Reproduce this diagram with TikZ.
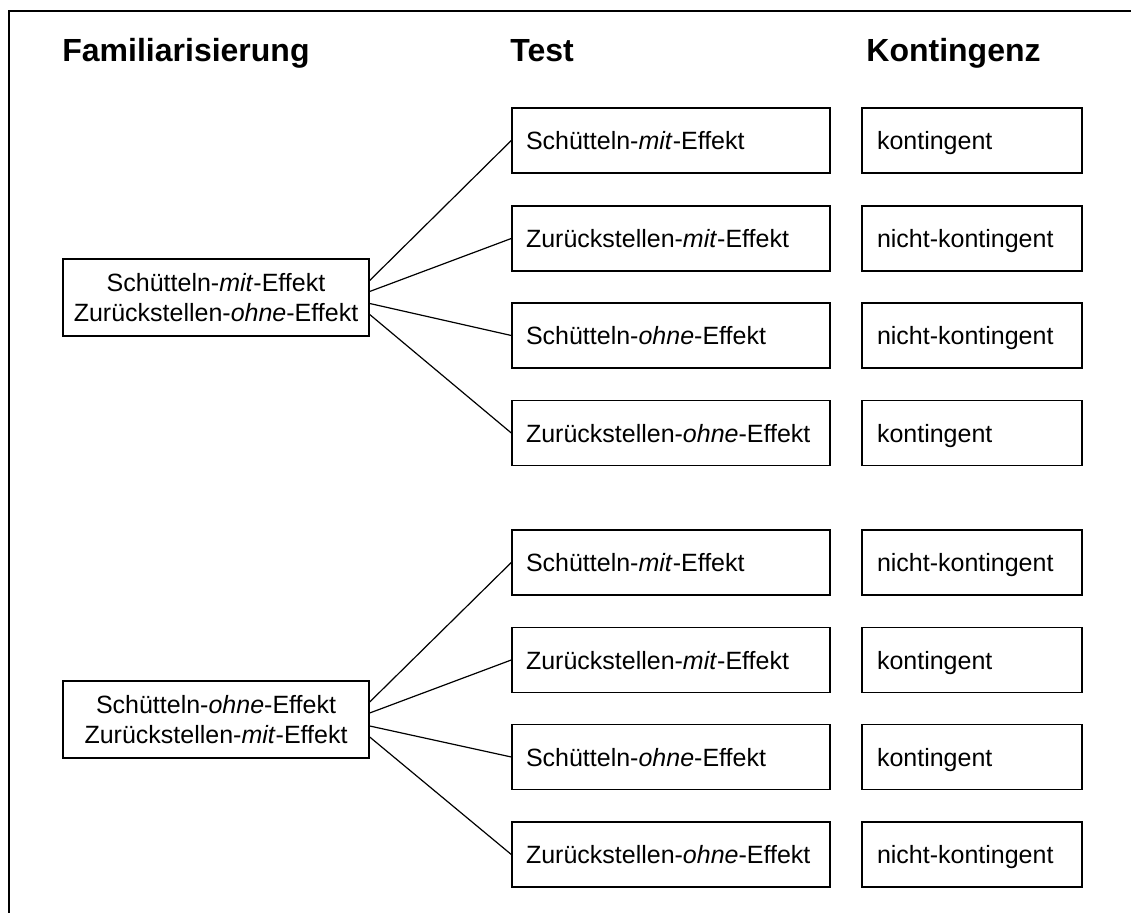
\documentclass[tikz,border=0pt]{standalone}
\usepackage{fontspec}
\setmainfont{Liberation Sans}
\tikzset{
	rahmen/.style={line width=1pt},
	famkasten/.style={draw, line width=0.7pt, minimum width=153pt, minimum height=38.5pt, inner sep=0pt, align=center, font=\fontsize{12.5}{15}\selectfont},
	testkasten/.style={draw, line width=0.7pt, minimum height=32.5pt, text width=145pt, text height=12pt, text depth=2.5pt, inner xsep=7pt, inner ysep=0pt, align=left, font=\fontsize{12.5}{15}\selectfont},
	kontkasten/.style={testkasten, text width=95pt, inner xsep=7.5pt},
	titel/.style={anchor=base west, inner sep=0pt, font=\fontsize{16}{19}\selectfont\bfseries},
	verbindung/.style={line width=0.6pt}
}

\begin{document}
\begin{tikzpicture}[x=0.5pt, y=-0.5pt]
		%%%%% START %%%%%
		\useasboundingbox (0, 0) rectangle (1131, 913);
		
		\draw[rahmen] (9, 913) -- (9, 11) -- (1131, 11);
		
		\node[titel] (tfam) at (62, 62) {Familiarisierung};
		\node[titel] (ttest) at (510, 62) {Test};
		\node[titel] (tkont) at (866, 62) {Kontingenz};
		
		\node[famkasten] (fam1) at (216, 297.5) {Schütteln-\emph{mit}-Effekt\\Zurückstellen-\emph{ohne}-Effekt};
		\node[famkasten] (fam2) at (216, 719.5) {Schütteln-\emph{ohne}-Effekt\\Zurückstellen-\emph{mit}-Effekt};
		
		\node[testkasten] (test1) at (671, 140.5) {Schütteln-\emph{mit}-Effekt};
		\node[testkasten] (test2) at (671, 238.5) {Zurückstellen-\emph{mit}-Effekt};
		\node[testkasten] (test3) at (671, 335.5) {Schütteln-\emph{ohne}-Effekt};
		\node[testkasten] (test4) at (671, 433) {Zurückstellen-\emph{ohne}-Effekt};
		
		\node[kontkasten] (kont1) at (972, 140.5) {kontingent};
		\node[kontkasten] (kont2) at (972, 238.5) {nicht-kontingent};
		\node[kontkasten] (kont3) at (972, 335.5) {nicht-kontingent};
		\node[kontkasten] (kont4) at (972, 433) {kontingent};
		
		\node[testkasten] (test5) at (671, 562.5) {Schütteln-\emph{mit}-Effekt};
		\node[testkasten] (test6) at (671, 660) {Zurückstellen-\emph{mit}-Effekt};
		\node[testkasten] (test7) at (671, 757) {Schütteln-\emph{ohne}-Effekt};
		\node[testkasten] (test8) at (671, 854.5) {Zurückstellen-\emph{ohne}-Effekt};
		
		\node[kontkasten] (kont5) at (972, 562.5) {nicht-kontingent};
		\node[kontkasten] (kont6) at (972, 660) {kontingent};
		\node[kontkasten] (kont7) at (972, 757) {kontingent};
		\node[kontkasten] (kont8) at (972, 854.5) {nicht-kontingent};
		
		\draw[verbindung] ([yshift=8.5pt]fam1.east) -- (test1.west);
		\draw[verbindung] ([yshift=3pt]fam1.east) -- (test2.west);
		\draw[verbindung] ([yshift=-3pt]fam1.east) -- (test3.west);
		\draw[verbindung] ([yshift=-8.5pt]fam1.east) -- (test4.west);
		
		\draw[verbindung] ([yshift=8.75pt]fam2.east) -- (test5.west);
		\draw[verbindung] ([yshift=3.25pt]fam2.east) -- (test6.west);
		\draw[verbindung] ([yshift=-3.25pt]fam2.east) -- (test7.west);
		\draw[verbindung] ([yshift=-8.75pt]fam2.east) -- (test8.west);
		
		%%%%% END %%%%%
\end{tikzpicture}
\end{document}
